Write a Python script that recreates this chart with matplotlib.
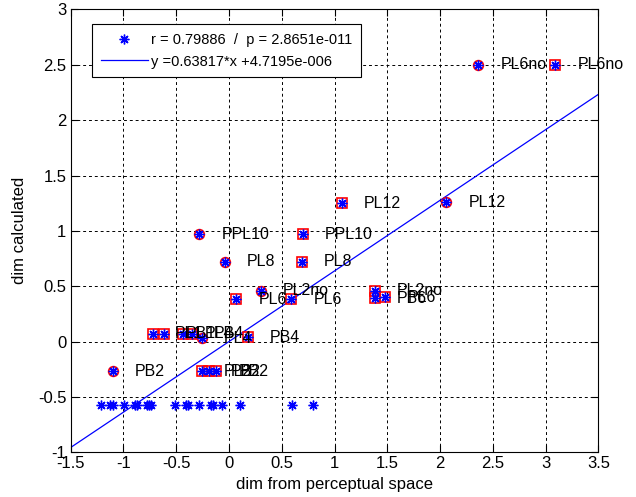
import matplotlib
matplotlib.use("Agg")
import matplotlib.pyplot as plt
import numpy as np

plt.rcParams["font.family"] = ["Liberation Sans", "DejaVu Sans"]

# points with red circle + blue asterisk
circle_x = [2.36, 2.06, -0.28, -0.04, 0.30, -0.26, -1.10]
circle_y = [2.50, 1.26, 0.97, 0.72, 0.46, 0.03, -0.27]
circle_labels = ["PL6no", "PL12", "PPL10", "PL8", "PL2no", "PL4", "PB2"]

# points with red square + blue asterisk
square_x = [3.09, 1.07, 0.70, 0.69, 0.59, 0.07, 1.38, 1.38, 1.48, 0.18,
            -0.72, -0.62, -0.44, -0.35, -0.26, -0.19, -0.12]
square_y = [2.50, 1.25, 0.97, 0.72, 0.38, 0.38, 0.46, 0.39, 0.40, 0.04,
            0.07, 0.07, 0.07, 0.07, -0.27, -0.27, -0.27]
square_labels = ["PL6no", "PL12", "PPL10", "PL8", "PL6", "PL6", "PL2no", "PB6", "PL6", "PB4",
                 "PL1", "PB1", "PL4", "PB4", "PL2", "PB2", "PB2"]

# bottom row of unlabeled samples
row_x = [-1.21, -1.13, -1.10, -0.99, -0.89, -0.87, -0.78, -0.76, -0.74,
         -0.51, -0.41, -0.39, -0.28, -0.17, -0.15, -0.07, 0.10, 0.60, 0.80]
row_y = [-0.575] * len(row_x)

slope = 0.63817
intercept = 4.7195e-6
r_txt = "r = 0.79886  /  p = 2.8651e-011"
fit_txt = "y =0.63817*x +4.7195e-006"

xlim = (-1.5, 3.5)
ylim = (-1, 3)
label_dx = 0.21

ASTER = (8, 2, 0)
BLUE = "#0000ff"
RED = "#ff0000"

fig = plt.figure(figsize=(6.36, 4.97), dpi=100)
ax = fig.add_axes([0.111, 0.090, 0.830, 0.891])

# combined samples (all points, blue asterisks)
all_x = circle_x + square_x + row_x
all_y = circle_y + square_y + row_y
h_pts, = ax.plot(all_x, all_y, linestyle="none", marker=ASTER, color=BLUE,
                 markersize=7, markeredgewidth=1.0, label=r_txt, zorder=4)

ax.plot(circle_x, circle_y, linestyle="none", marker="o", markersize=7,
        markerfacecolor="none", markeredgecolor=RED, markeredgewidth=1.2, zorder=3)
ax.plot(square_x, square_y, linestyle="none", marker="s", markersize=7.5,
        markerfacecolor="none", markeredgecolor=RED, markeredgewidth=1.2, zorder=3)

for x, y, s in zip(circle_x, circle_y, circle_labels):
    ax.text(x + label_dx, y, s, fontsize=11.5, va="center", ha="left", color="black", zorder=5)
for x, y, s in zip(square_x, square_y, square_labels):
    ax.text(x + label_dx, y, s, fontsize=11.5, va="center", ha="left", color="black", zorder=5)

# regression line across the x range
lx = np.array(xlim)
h_fit, = ax.plot(lx, slope * lx + intercept, color=BLUE, linewidth=0.9, label=fit_txt, zorder=2)

ax.set_xlim(*xlim)
ax.set_ylim(*ylim)
ax.set_xticks(np.arange(-1.5, 3.51, 0.5))
ax.set_yticks(np.arange(-1, 3.01, 0.5))
ax.set_xticklabels([f"{v:g}" for v in np.arange(-1.5, 3.51, 0.5)])
ax.set_yticklabels([f"{v:g}" for v in np.arange(-1, 3.01, 0.5)])
ax.tick_params(direction="in", length=5, width=0.8, labelsize=12,
               top=True, right=True, pad=3)
ax.grid(True, color="black", linestyle=(0, (3, 3)), linewidth=0.7)
ax.set_axisbelow(True)
for sp in ax.spines.values():
    sp.set_linewidth(0.8)

ax.set_xlabel("dim from perceptual space", fontsize=12, labelpad=4)
ax.set_ylabel("dim calculated", fontsize=12, labelpad=8)

leg = ax.legend(handles=[h_pts, h_fit], loc="upper left", bbox_to_anchor=(0.041, 0.966),
                borderaxespad=0, fontsize=10.5, frameon=True, fancybox=False,
                framealpha=1, edgecolor="black", handlelength=3.2, handletextpad=0.25,
                borderpad=0.6, labelspacing=0.5)
leg.get_frame().set_linewidth(0.8)
leg.set_zorder(6)

fig.savefig("out.png", dpi=100)
